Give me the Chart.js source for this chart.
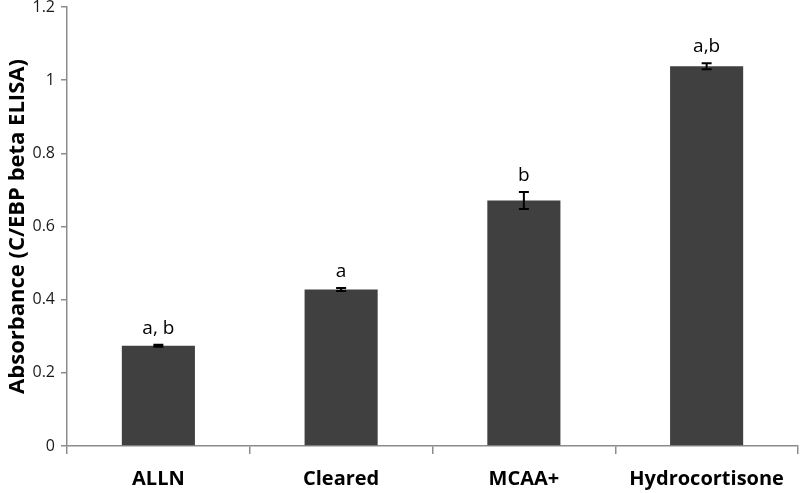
<!DOCTYPE html>
<html>
<head>
<meta charset="utf-8">
<script src="https://cdn.jsdelivr.net/npm/chart.js@4/dist/chart.umd.min.js"></script>
<style>
  html, body { margin: 0; padding: 0; background: #fff; }
  #wrap { width: 800px; height: 493px; }
</style>
</head>
<body>
<div id="wrap"><canvas id="chart" width="800" height="493"></canvas></div>
<script>
// --- data ---
const categories = ['ALLN', 'Cleared', 'MCAA+', 'Hydrocortisone'];
const absorbance = [0.274, 0.428, 0.671, 1.038];
const errors = [0.003, 0.004, 0.023, 0.008];
const sigLabels = ['a, b', 'a', 'b', 'a,b'];
const yTicks = [0, 0.2, 0.4, 0.6, 0.8, 1, 1.2];

const FONT = "'Open Sans', 'Liberation Sans', sans-serif";

// error bars + significance letters drawn through the scales
const errorBarPlugin = {
    id: 'errorBars',
    afterDatasetsDraw(chart) {
        const ctx = chart.ctx;
        const x = chart.scales.x, y = chart.scales.y;
        ctx.save();
        ctx.strokeStyle = '#000';
        ctx.lineWidth = 2;
        absorbance.forEach((v, i) => {
            const cx = x.getPixelForValue(i);
            const top = y.getPixelForValue(v + errors[i]);
            const bot = y.getPixelForValue(v - errors[i]);
            ctx.beginPath();
            ctx.moveTo(cx, top); ctx.lineTo(cx, bot);
            ctx.moveTo(cx - 5, top); ctx.lineTo(cx + 5, top);
            ctx.moveTo(cx - 5, bot); ctx.lineTo(cx + 5, bot);
            ctx.stroke();
            ctx.fillStyle = '#000';
            ctx.font = '19px ' + FONT;
            ctx.textAlign = 'center';
            ctx.textBaseline = 'alphabetic';
            ctx.fillText(sigLabels[i], cx, top - 11);
        });
        ctx.restore();
    }
};

new Chart(document.getElementById('chart').getContext('2d'), {
    type: 'bar',
    data: {
        labels: categories,
        datasets: [{
            data: absorbance,
            backgroundColor: '#404040',
            borderWidth: 0,
            categoryPercentage: 1,
            barPercentage: 0.4
        }]
    },
    options: {
        responsive: false,
        animation: false,
        layout: { padding: { top: 7, right: 2, left: 0, bottom: 0 } },
        plugins: { legend: { display: false }, tooltip: { enabled: false } },
        scales: {
            x: {
                offset: true,
                grid: { offset: true, drawOnChartArea: false, drawTicks: true, tickLength: 8, color: '#8c8c8c', lineWidth: 1.5 },
                border: { color: '#8c8c8c', width: 1.5 },
                ticks: { color: '#000', font: { family: FONT, size: 20, weight: 'bold' }, padding: 13 },
                afterFit(scale) { scale.height = 47; scale.paddingLeft = 0; scale.paddingRight = 0; }
            },
            y: {
                min: 0,
                max: 1.2,
                afterBuildTicks(scale) { scale.ticks = yTicks.map(v => ({ value: v })); },
                ticks: {
                    color: '#1a1a1a',
                    font: { family: FONT, size: 16 },
                    padding: 6,
                    callback: v => String(v)
                },
                grid: { drawOnChartArea: false, drawTicks: true, tickLength: 6, color: '#8c8c8c', lineWidth: 1.5 },
                border: { color: '#8c8c8c', width: 1.5 },
                title: {
                    display: true,
                    text: 'Absorbance (C/EBP beta ELISA)',
                    color: '#000',
                    font: { family: FONT, size: 22, weight: 'bold' },
                    padding: { top: 5, bottom: 2 }
                },
                afterFit(scale) { scale.width = 67; scale.paddingTop = 0; scale.paddingBottom = 0; }
            }
        }
    },
    plugins: [errorBarPlugin]
});
</script>
</body>
</html>
